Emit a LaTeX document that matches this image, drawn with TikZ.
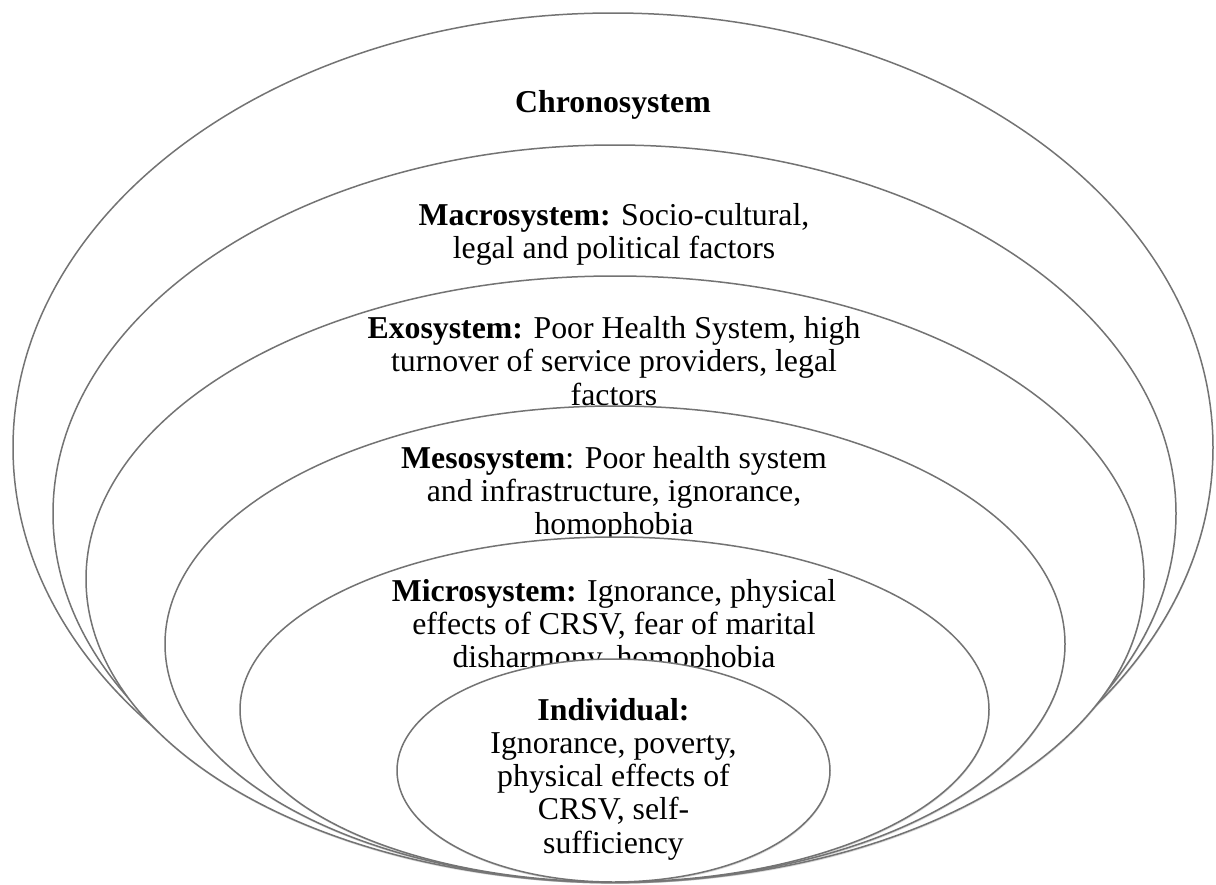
\documentclass[tikz,border=0pt]{standalone}
\usepackage{fontspec}
\setmainfont{Liberation Serif}
\usetikzlibrary{shapes, shadows}

\begin{document}
\begin{tikzpicture}[x = 0.5pt, y = -0.5pt]
	\tikzstyle{RingStyle} = [draw = black!55, line width = 0.75pt, fill = white, drop shadow = {opacity = 0.3, shadow xshift = 0.2pt, shadow yshift = -0.8pt}]
	\tikzstyle{LabelStyle} = [align = center, inner sep = 0pt, font = \fontsize{15.9}{16.6}\selectfont]
	\useasboundingbox (0,0) rectangle (1216,884);
	\draw[RingStyle] (613,447.5) ellipse [x radius = 600, y radius = 434.5];
	\node[LabelStyle] (chrono) at (613,105) {\textbf{Chronosystem}};
	\draw[RingStyle] (614.5,513.5) ellipse [x radius = 561.5, y radius = 368.5];
	\node[LabelStyle] (macro) at (614,234) {\textbf{Macrosystem:} Socio-cultural,\\ legal and political factors};
	\draw[RingStyle] (615,579) ellipse [x radius = 529, y radius = 303];
	\node[LabelStyle] (exo) at (614,361) {\textbf{Exosystem:} Poor Health System, high\\ turnover of service providers, legal\\ factors};
	\draw[RingStyle] (615,644) ellipse [x radius = 450, y radius = 238];
	\node[LabelStyle] (meso) at (614,494) {\textbf{Mesosystem}: Poor health system\\ and infrastructure, ignorance,\\ homophobia};
	\draw[RingStyle] (614.5,709.5) ellipse [x radius = 374.5, y radius = 172.5];
	\node[LabelStyle] (micro) at (614,627) {\textbf{Microsystem:} Ignorance, physical\\ effects of CRSV, fear of marital\\ disharmony, homophobia};
	\draw[RingStyle] (613.5,770.5) ellipse [x radius = 216.5, y radius = 111.5];
	\node[LabelStyle] (indiv) at (613.5,779) {\textbf{Individual:}\\ Ignorance, poverty,\\ physical effects of\\ CRSV, self-\\ sufficiency};
\end{tikzpicture}
\end{document}
